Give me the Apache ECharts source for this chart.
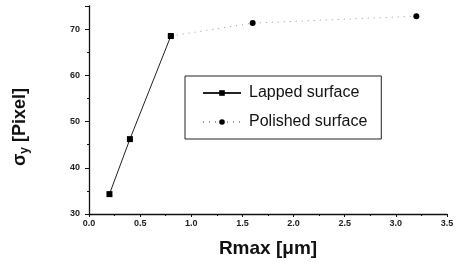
<!DOCTYPE html>
<html>
<head>
<meta charset="utf-8">
<title>Rmax - sigma y</title>
<script src="https://cdn.jsdelivr.net/npm/echarts@6/dist/echarts.min.js"></script>
<style>
  html, body { margin: 0; padding: 0; background: #fff; }
</style>
</head>
<body>
<div id="chart" style="width: 458px; height: 263px;"></div>
<script type="text/javascript">
// data
var seriesNames = ['Lapped surface', 'Polished surface'];
var lappedX = [0.2, 0.4, 0.8];
var lappedY = [34.3, 46.2, 68.5];
var polishedX = [0.8, 1.6, 3.2];
var polishedY = [68.5, 71.3, 72.8];

function pairs(xs, ys) {
  var out = [];
  for (var i = 0; i < xs.length; i++) out.push([xs[i], ys[i]]);
  return out;
}

var myChart = echarts.init(document.getElementById('chart'));
var font = 'Liberation Sans, Arial, sans-serif';
var option = {
  animation: false,
  backgroundColor: '#fff',
  grid: { left: 89, right: 11, top: 6, bottom: 46 },
  legend: {
    orient: 'vertical',
    left: 185,
    top: 76,
    padding: [9, 14, 9, 17],
    itemWidth: 38,
    itemHeight: 7,
    itemGap: 13,
    borderColor: '#222',
    borderWidth: 1,
    borderRadius: 0,
    textStyle: { fontFamily: font, fontSize: 16, color: '#111', padding: [0, 0, 0, 3] },
    data: seriesNames
  },
  xAxis: {
    type: 'value',
    min: 0,
    max: 3.5,
    interval: 0.5,
    name: 'Rmax [μm]',
    nameLocation: 'middle',
    nameGap: 25,
    nameTextStyle: { fontFamily: font, fontSize: 19, fontWeight: 'bold', color: '#111' },
    axisLine: { lineStyle: { color: '#111', width: 1.3 } },
    axisTick: { inside: false, length: 3, lineStyle: { color: '#111' } },
    minorTick: { show: true, splitNumber: 2, length: 2, lineStyle: { color: '#111' } },
    splitLine: { show: false },
    axisLabel: {
      fontFamily: font, fontSize: 9, fontWeight: 'bold', color: '#222', margin: 5,
      formatter: function (v) { return v.toFixed(1); }
    }
  },
  yAxis: {
    type: 'value',
    min: 30,
    max: 75,
    interval: 10,
    name: '{a|σ}{b|y}{a| [Pixel]}',
    nameLocation: 'middle',
    nameGap: 58,
    nameRotate: 90,
    nameTextStyle: {
      padding: [0, 34, 0, 0],
      rich: {
        a: { fontFamily: font, fontSize: 18, fontWeight: 'bold', color: '#111' },
        b: { fontFamily: font, fontSize: 12, fontWeight: 'bold', color: '#111', padding: [9, 0, 0, 0] }
      }
    },
    axisLine: { show: true, lineStyle: { color: '#111', width: 1.3 } },
    axisTick: { show: true, inside: false, length: 4, lineStyle: { color: '#111' } },
    minorTick: { show: true, splitNumber: 2, length: 2, lineStyle: { color: '#111' } },
    splitLine: { show: false },
    axisLabel: {
      fontFamily: font, fontSize: 9, fontWeight: 'bold', color: '#222', margin: 9,
      showMaxLabel: false
    }
  },
  series: [
    {
      name: seriesNames[0],
      type: 'line',
      data: pairs(lappedX, lappedY),
      symbol: 'rect',
      symbolSize: 6,
      z: 3,
      itemStyle: { color: '#000' },
      lineStyle: { color: '#222', width: 1 }
    },
    {
      name: seriesNames[1],
      type: 'line',
      data: pairs(polishedX, polishedY),
      symbol: 'circle',
      symbolSize: 6,
      z: 2,
      itemStyle: { color: '#000' },
      lineStyle: { color: '#999', width: 1, type: [1, 5] }
    }
  ]
};
myChart.setOption(option);
</script>
</body>
</html>
